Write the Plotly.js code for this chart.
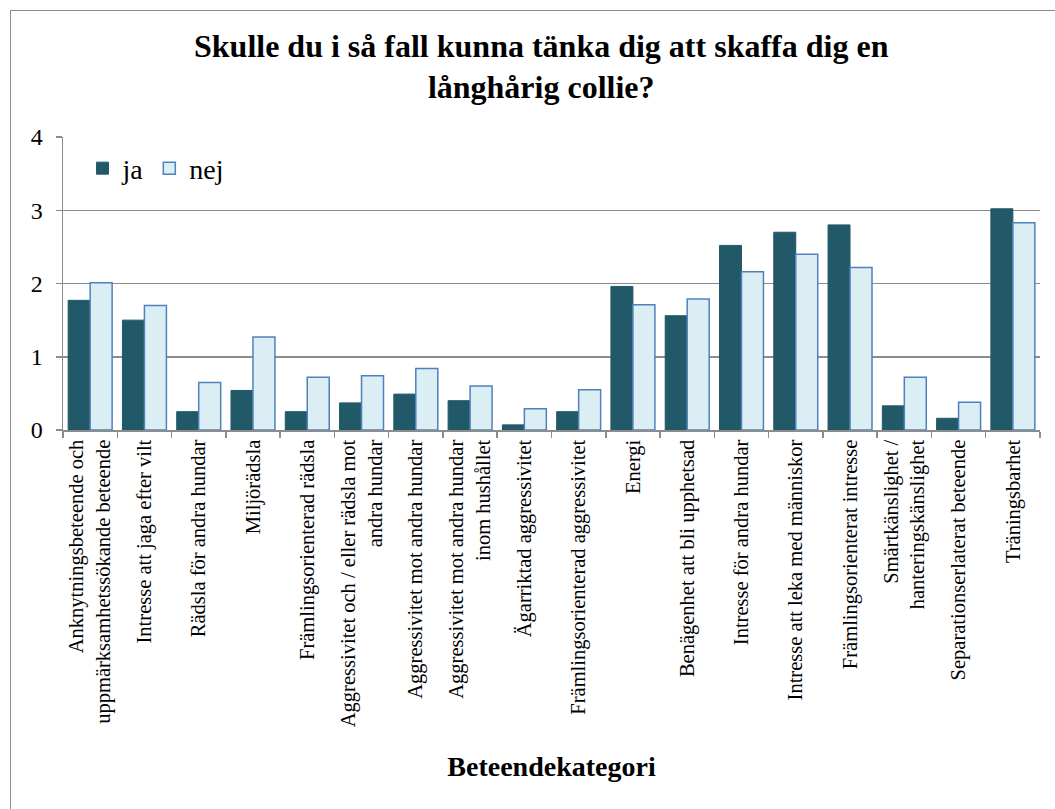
<!DOCTYPE html>
<html>
<head>
<meta charset="utf-8">
<script src="https://cdn.plot.ly/plotly-3.0.1.min.js"></script>
<style>
  html, body { margin: 0; padding: 0; background: #fff; overflow: hidden; }
  #frame { position: absolute; left: 10px; top: 10px; width: 1100px; height: 900px; border: 1.5px solid #8c8c8c; box-sizing: border-box; }
  #chart { position: absolute; left: 0; top: 0; width: 1055px; height: 809px; }
</style>
</head>
<body>
<div id="frame"></div>
<div id="chart"></div>
<script>
const categories = [
  "Anknytningsbeteende och<br>uppmärksamhetssökande beteende",
  "Intresse att jaga efter vilt",
  "Rädsla för andra hundar",
  "Miljörädsla",
  "Främlingsorienterad rädsla",
  "Aggressivitet och / eller rädsla mot<br>andra hundar",
  "Aggressivitet mot andra hundar",
  "Aggressivitet mot andra hundar<br>inom hushållet",
  "Ägarriktad aggressivitet",
  "Främlingsorienterad aggressivitet",
  "Energi",
  "Benägenhet att bli upphetsad",
  "Intresse för andra hundar",
  "Intresse att leka med människor",
  "Främlingsorienterat intresse",
  "Smärtkänslighet /<br>hanteringskänslighet",
  "Separationserlaterat beteende",
  "Träningsbarhet"
];
const jaValues  = [1.77, 1.50, 0.25, 0.54, 0.25, 0.37, 0.49, 0.40, 0.07, 0.25, 1.96, 1.56, 2.52, 2.70, 2.80, 0.33, 0.16, 3.02];
const nejValues = [2.01, 1.70, 0.65, 1.27, 0.72, 0.74, 0.84, 0.60, 0.29, 0.55, 1.71, 1.79, 2.16, 2.40, 2.22, 0.72, 0.38, 2.83];
const seriesNames = ["ja", "nej"];
const chartTitle = "Skulle du i så fall kunna tänka dig att skaffa dig en<br>långhårig collie?";
const xTitle = "Beteendekategori";

const serif = "Liberation Serif";

const traces = [
  {
    type: "bar", name: seriesNames[0], x: categories, y: jaValues,
    marker: { color: "#215968", line: { color: "#215968", width: 1 } }
  },
  {
    type: "bar", name: seriesNames[1], x: categories, y: nejValues,
    marker: { color: "#DBEEF4", line: { color: "#4F81BD", width: 1.5 } }
  }
];

const layout = {
  width: 1055, height: 809,
  font: { family: serif, color: "#000" },
  paper_bgcolor: "rgba(0,0,0,0)", plot_bgcolor: "rgba(0,0,0,0)",
  margin: { l: 63, r: 15, t: 137, b: 379 },
  barmode: "group", bargap: 0.19, bargroupgap: 0,
  title: {
    text: "<b>" + chartTitle + "</b>",
    font: { family: serif, size: 32, color: "#000" },
    x: 0.513, xanchor: "center", y: 0.93, yanchor: "top", yref: "container"
  },
  showlegend: true,
  legend: {
    orientation: "h", x: 0.02, y: 0.978, xanchor: "left", yanchor: "top",
    font: { family: serif, size: 28, color: "#000" },
    bgcolor: "rgba(0,0,0,0)", itemwidth: 30, tracegroupgap: 0
  },
  xaxis: {
    type: "category", tickangle: -90, automargin: false,
    showline: true, linecolor: "#8c8c8c", linewidth: 1.5,
    ticks: "outside", tickson: "boundaries", ticklen: 6, tickcolor: "#8c8c8c", tickwidth: 1.5,
    tickfont: { family: serif, size: 20.5, color: "#000" },
    showgrid: false,
    title: { text: "<b>" + xTitle + "</b>", font: { family: serif, size: 28, color: "#000" }, standoff: 30 }
  },
  yaxis: {
    range: [0, 4], dtick: 1, tick0: 0, automargin: false,
    showline: true, linecolor: "#8c8c8c", linewidth: 1.5,
    ticks: "outside", ticklen: 6, tickcolor: "#8c8c8c", tickwidth: 1.5,
    ticklabelstandoff: 8,
    showgrid: true, gridcolor: "#8c8c8c", gridwidth: 1.5,
    zeroline: false,
    tickfont: { family: serif, size: 24, color: "#000" }
  }
};

Plotly.newPlot("chart", traces, layout, { displayModeBar: false, staticPlot: true });
</script>
</body>
</html>
